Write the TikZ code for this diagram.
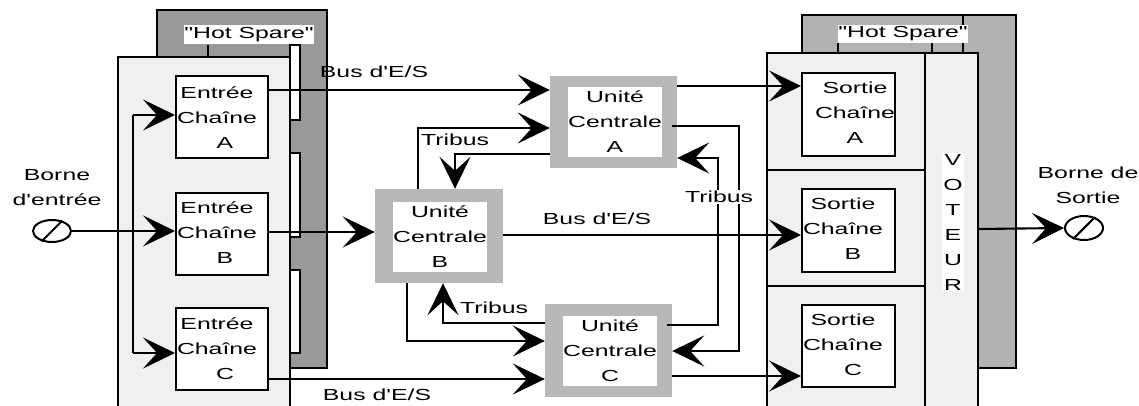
\documentclass[tikz,border=0pt]{standalone}
\usepackage{fontspec}
\newfontfamily\lsans{Liberation Sans}[FakeStretch=1.55]
\usetikzlibrary{arrows.meta,shapes.geometric}
\definecolor{backL}{gray}{0.6}
\definecolor{backR}{gray}{0.7}
\definecolor{front}{gray}{0.94}
\definecolor{ugray}{gray}{0.72}
\begin{document}
\begin{tikzpicture}[x=1pt,y=-1pt,
  font=\lsans\fontsize{16pt}{25pt}\selectfont,
  ln/.style={line width=2.1pt},
  arr/.style={line width=2.1pt,-{Stealth[length=32pt,width=31pt,inset=14pt]}},
  panel/.style={draw=black,line width=2pt},
  strip/.style={draw=black,line width=1.5pt,fill=white},
  chbox/.style={draw=black,line width=2pt,fill=white,inner sep=0pt,minimum width=92pt,minimum height=82pt},
  ubox/.style={fill=ugray,inner sep=0pt,minimum width=127pt,minimum height=93pt},
  uin/.style={fill=white,inner sep=0pt,minimum width=86pt,minimum height=70pt,align=center},
  txt/.style={inner sep=0pt,align=center},
  lbl/.style={inner sep=1pt,align=center},
  term/.style={draw=black,line width=2pt,ellipse,inner sep=0pt,minimum width=38pt,minimum height=22pt},
  hs/.style={fill=white,inner sep=0pt,minimum width=128pt,minimum height=19pt},
]
\useasboundingbox (0,0) rectangle (1139,406);
\clip (0,0) rectangle (1139,406);

% ---------- left panels ----------
\filldraw[panel,fill=backL] (157,10) rectangle (327,368);
\node[hs] (hsL) at (249,35) {"Hot Spare"};
\draw[ln] (208,45) -- (208,57);
\filldraw[panel,fill=front] (118,57) rectangle (290,415);
\filldraw[strip] (290,45) rectangle (300,120);
\filldraw[strip] (290,153) rectangle (300,237);
\filldraw[strip] (290,270) rectangle (300,353);

% ---------- right panels ----------
\filldraw[panel,fill=backR] (802,15) rectangle (1016,368);
\draw[line width=2.6pt] (963,15) -- (963,53);
\node[hs,minimum height=18pt] (hsR) at (903,34) {"Hot Spare"};
\draw[ln] (838,43) -- (838,53);
\draw[ln] (932,43) -- (932,53);
\filldraw[panel,fill=front] (767,53) rectangle (925,415);
\draw[ln] (767,170) -- (925,170);
\draw[ln] (767,286) -- (925,286);
\node[panel,fill=front,inner sep=0pt,minimum width=53pt,minimum height=362pt] (vot) at (951.5,234) {};
\node[lbl,fill=white] (votl) at (953,222) {V\\O\\T\\E\\U\\R};

% ---------- input chain boxes ----------
\node[chbox] (eA) at (222,117.5) {};
\node[txt] (eAt) at (217,117.5) {Entrée\\Chaîne\\\hspace*{16pt}A};
\node[chbox] (eB) at (222,234) {};
\node[txt] (eBt) at (217,233) {Entrée\\Chaîne\\\hspace*{16pt}B};
\node[chbox] (eC) at (222,349) {};
\node[txt] (eCt) at (217,349) {Entrée\\Chaîne\\\hspace*{16pt}C};

% ---------- output chain boxes ----------
\node[chbox,minimum width=93pt,minimum height=83pt] (sA) at (848.5,114.5) {};
\node[txt] (sAt) at (855,113) {Sortie\\Chaîne\\A};
\node[chbox,minimum width=93pt,minimum height=83pt] (sB) at (848.5,230.5) {};
\node[txt] (sBt) at (843,229) {Sortie\\Chaîne\\\hspace*{20pt}B};
\node[chbox,minimum width=93pt,minimum height=82pt] (sC) at (848.5,346) {};
\node[txt] (sCt) at (843,345) {Sortie\\Chaîne\\\hspace*{20pt}C};

% ---------- central units ----------
\node[ubox,minimum height=92pt] (uA) at (613.5,122) {};
\node[uin] (uAi) at (615,122) {Unité\\Centrale\\A};
\node[ubox,minimum width=128pt,minimum height=94pt] (uB) at (439,236) {};
\node[uin] (uBi) at (440,236.5) {Unité\\Centrale\\B};
\node[ubox] (uC) at (608.5,350.5) {};
\node[uin] (uCi) at (610,350.5) {Unité\\Centrale\\C};

% ---------- terminals ----------
\node[txt] (binT) at (57,188) {Borne\\d'entrée};
\node[term] (inL) at (52,231) {};
\draw[ln] (inL.-135) -- (inL.45);
\node[txt] (boutT) at (1088,185) {Borne de\\Sortie};
\node[term,minimum height=24pt] (outR) at (1084,228) {};
\draw[ln] (outR.-135) -- (outR.45);

% ---------- coordinates ----------
\coordinate (jT) at (133,115);
\coordinate (jB) at (133,353);
\coordinate (b1) at (0,90);
\coordinate (b2) at (0,232);
\coordinate (b3) at (0,379);
\coordinate (s1) at (0,86);
\coordinate (s2) at (0,235);
\coordinate (s3) at (0,376);
\coordinate (o1) at (0,229);
\coordinate (t1) at (418,128);
\coordinate (t2) at (455,154);
\coordinate (t3) at (739,126);
\coordinate (t3b) at (739,351);
\coordinate (t4) at (718,325);
\coordinate (t4b) at (718,158);
\coordinate (t5) at (443,323);
\coordinate (t6) at (407,341);

% ---------- input distribution ----------
\draw[ln] (jT) -- (jB);
\draw[arr] (jT) -- (eA.west |- jT);
\draw[arr] (jB) -- (eC.west |- jB);
\draw[arr] (inL.east) -- (eB.west |- inL.east);

% ---------- I/O buses ----------
\draw[arr] (eA.east |- b1) -- (uA.west |- b1);
\draw[arr] (eB.east |- b2) -- (uB.west |- b2);
\draw[arr] (eC.east |- b3) -- (uC.west |- b3);
\draw[arr] (uA.east |- s1) -- (sA.west |- s1);
\draw[arr] (uB.east |- s2) -- (sB.west |- s2);
\draw[arr] (uC.east |- s3) -- (sC.west |- s3);
\draw[arr] (vot.east |- o1) -- (outR.west);

% ---------- Tribus ----------
\draw[arr] (uB.north -| t1) |- (uA.west |- t1);
\draw[arr] (uA.west |- t2) -| (uB.north -| t2);
\draw[arr] ([xshift=-5pt]uA.east |- t3) -- (t3) -- (t3b) -- (uC.east |- t3b);
\draw[arr] ([xshift=-5pt]uC.east |- t4) -- (t4) -- (t4b) -- (uA.east |- t4b);
\draw[arr] (uC.west |- t5) -| (uB.south -| t5);
\draw[arr] (uB.south -| t6) |- (uC.west |- t6);

% ---------- labels ----------
\node[lbl] (lb1) at (374,72) {Bus d'E/S};
\node[lbl] (lb2) at (597,219) {Bus d'E/S};
\node[lbl] (lb3) at (377,395) {Bus d'E/S};
\node[lbl] (lt1) at (455,140) {Tribus};
\node[lbl,fill=white] (lt2) at (719,197) {Tribus};
\node[lbl] (lt3) at (494,308) {Tribus};
\end{tikzpicture}
\end{document}
